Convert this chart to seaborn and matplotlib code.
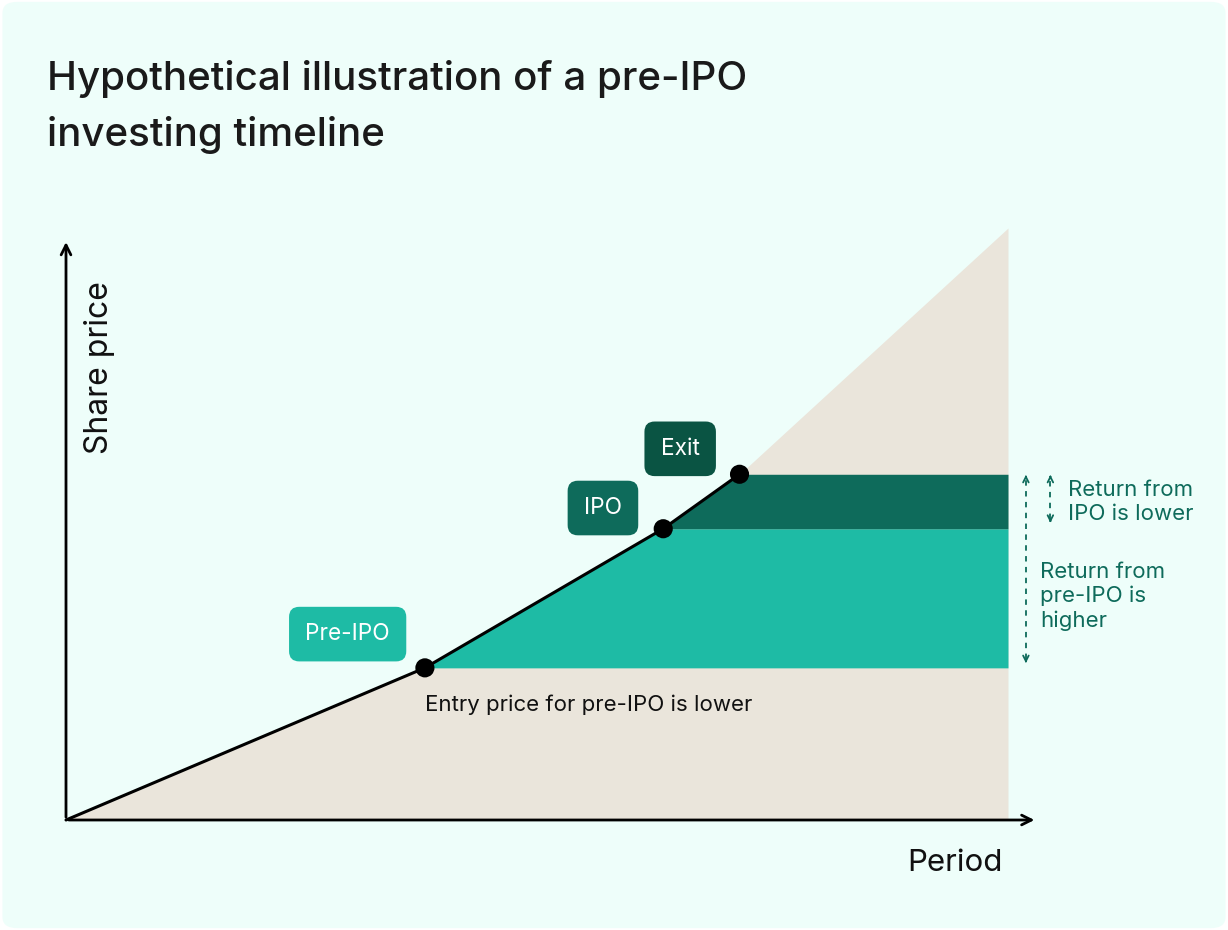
import matplotlib
matplotlib.use("Agg")
import matplotlib.pyplot as plt
import seaborn as sns
from matplotlib.patches import FancyBboxPatch

# data (period vs share price, arbitrary units)
period = [0, 3.81, 6.34, 7.15, 10]
price = [0, 2.57, 4.92, 5.84, 10]
milestones = ["Pre-IPO", "IPO", "Exit"]
milestone_period = [3.81, 6.34, 7.15]
milestone_price = [2.57, 4.92, 5.84]

bg = "#EEFEFA"
beige = "#EAE5DB"
teal = "#1EBBA5"
dark = "#0E6B5B"
darker = "#0A5443"

sns.set_style("white")
plt.rcParams["font.family"] = ["Inter", "DejaVu Sans"]

fig = plt.figure(figsize=(12.28, 9.3), dpi=100)
fig.patch.set_facecolor("white")
fig.patches.append(FancyBboxPatch((0.002, 0.002), 0.996, 0.996,
                                  boxstyle="round,pad=0,rounding_size=0.012",
                                  transform=fig.transFigure, fc=bg, ec="none",
                                  zorder=-10))

ax = fig.add_axes([0, 0, 1, 1])
ax.set_xlim(-66 / 94.2, (1228 - 66) / 94.2)
ax.set_ylim(-110 / 59.2, 820 / 59.2)
ax.axis("off")

# shaded areas
ax.fill_between(period, 0, price, color=beige, lw=0, zorder=1)
ax.fill_between([milestone_period[0], milestone_period[1], period[-1]],
                milestone_price[0],
                [milestone_price[0], milestone_price[1], milestone_price[1]],
                color=teal, lw=0, zorder=2)
ax.fill_between([milestone_period[1], milestone_period[2], period[-1]],
                milestone_price[1],
                [milestone_price[1], milestone_price[2], milestone_price[2]],
                color=dark, lw=0, zorder=2)

# price line and milestones
sns.lineplot(x=period[:4], y=price[:4], color="black", lw=2.2, ax=ax, zorder=4)
sns.scatterplot(x=milestone_period, y=milestone_price, color="black", s=190,
                edgecolor="none", ax=ax, zorder=5)

# axes arrows
arrow = dict(arrowstyle="->,head_length=0.7,head_width=0.35", color="black", lw=2)
ax.annotate("", xy=(10.31, 0), xytext=(0, 0), arrowprops=arrow, zorder=6)
ax.annotate("", xy=(0, 9.81), xytext=(0, 0), arrowprops=arrow, zorder=6)

ax.text(0.36, 7.64, "Share price", rotation=90, ha="center", va="center",
        fontsize=23, color="#111111")
ax.text(9.94, -0.73, "Period", ha="right", va="center", fontsize=22.5, color="#111111")

# milestone labels
label_pos = [(2.99, 3.14), (5.70, 5.27), (6.52, 6.27)]
label_col = [teal, dark, darker]
for name, (lx, ly), c in zip(milestones, label_pos, label_col):
    ax.text(lx, ly, name, ha="center", va="center", fontsize=16.3, color="white",
            bbox=dict(boxstyle="round,pad=0.72,rounding_size=0.45", fc=c, ec="none"),
            zorder=6)

ax.text(3.81, 1.94, "Entry price for pre-IPO is lower", ha="left", va="center",
        fontsize=16, color="#111111", zorder=6)

# return brackets
dash = dict(color=dark, lw=1.3, ls=(0, (3, 3)))
ax.plot([10.19, 10.19], [2.72, 5.76], **dash)
ax.plot([10.45, 10.45], [5.09, 5.76], **dash)
head = dict(arrowstyle="->,head_length=0.4,head_width=0.2", color=dark, lw=1.3)
for hx, y0, y1 in [(10.19, 5.74, 5.83), (10.19, 2.74, 2.65),
                   (10.45, 5.74, 5.83), (10.45, 5.11, 5.02)]:
    ax.annotate("", xy=(hx, y1), xytext=(hx, y0), arrowprops=head)

ax.text(10.64, 5.37, "Return from\nIPO is lower", ha="left", va="center",
        fontsize=16, color=dark, linespacing=1.25)
ax.text(10.34, 3.78, "Return from\npre-IPO is\nhigher", ha="left", va="center",
        fontsize=16, color=dark, linespacing=1.25)

# title
fig.text(47 / 1228, 1 - 90 / 930, "Hypothetical illustration of a pre-IPO",
         fontsize=29, fontweight="medium", color="#1a1a1a", va="baseline", ha="left")
fig.text(47 / 1228, 1 - 146 / 930, "investing timeline",
         fontsize=29, fontweight="medium", color="#1a1a1a", va="baseline", ha="left")

fig.savefig("out.png", dpi=100, facecolor=fig.get_facecolor())
